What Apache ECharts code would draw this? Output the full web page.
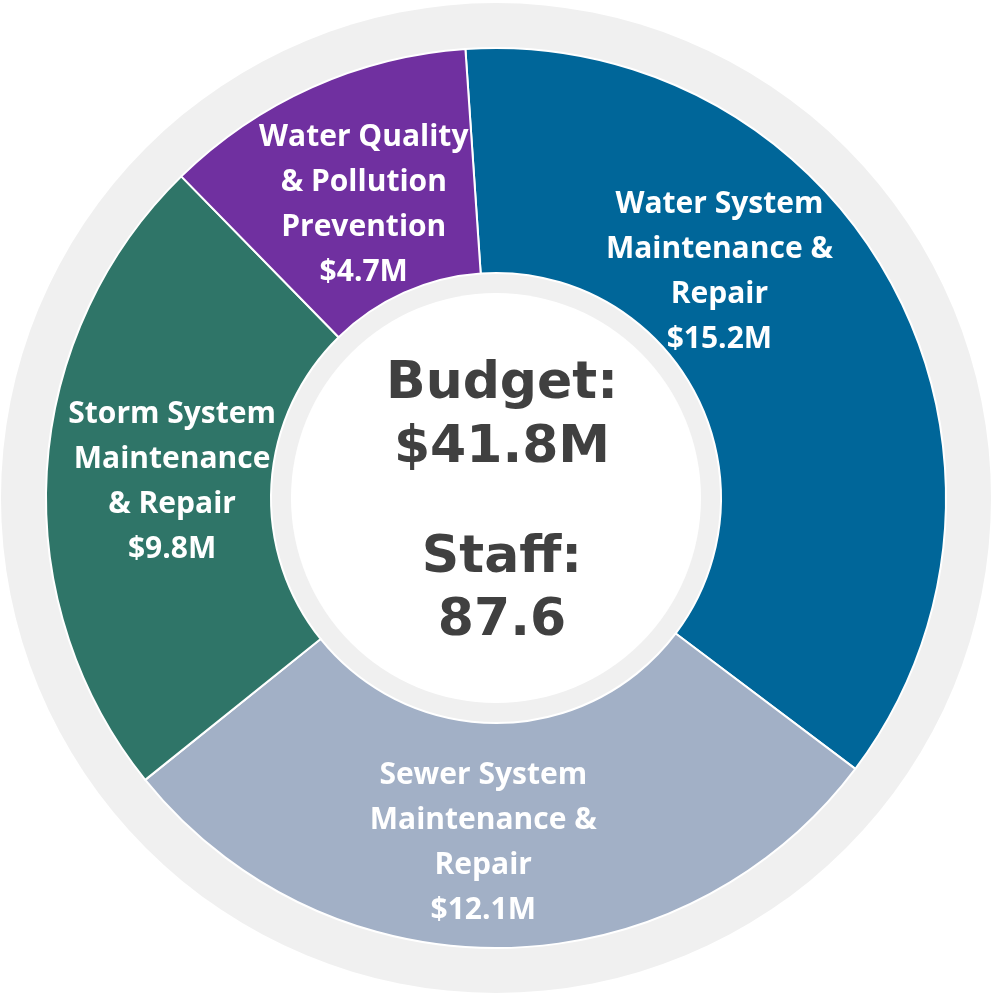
<!DOCTYPE html>
<html>
<head>
<meta charset="utf-8">
<script src="https://cdn.jsdelivr.net/npm/echarts@6/dist/echarts.min.js"></script>
<style>html,body{margin:0;padding:0;background:#fff}#c{width:1000px;height:994px}</style>
</head>
<body>
<div id="c"></div>
<script>
const categories = [
  "Water System\nMaintenance &\nRepair",
  "Sewer System\nMaintenance &\nRepair",
  "Storm System\nMaintenance\n& Repair",
  "Water Quality\n& Pollution\nPrevention"
];
const values = [15.2, 12.1, 9.8, 4.7];
const colors = ["#006699", "#A2B0C6", "#2F7568", "#7030A0"];
const centerLines = ["Budget:", "$41.8M", "Staff:", "87.6"];

const chart = echarts.init(document.getElementById('c'));
const cx = 496, cy = 498;
const labelOffsets = [[-76, -64], [-18, 4], [16, 4], [7, 18]];
const data = values.map((v, i) => ({
  name: categories[i],
  value: v,
  itemStyle: { color: colors[i] },
  label: { offset: labelOffsets[i] }
}));
const centerY = [384, 448, 558, 621];

chart.setOption({
  animation: false,
  series: [
    {
      type: 'pie', radius: [0, 495], center: [cx, cy], silent: true,
      label: { show: false }, labelLine: { show: false },
      data: [{ value: 1, itemStyle: { color: '#F0F0F0' } }]
    },
    {
      type: 'pie', radius: [225, 450], center: [cx, cy], startAngle: 93.9, clockwise: true,
      silent: true,
      itemStyle: { borderColor: '#ffffff', borderWidth: 2 },
      label: {
        show: true, position: 'inside',
        color: '#ffffff', fontFamily: 'Open Sans', fontWeight: 'bold', fontSize: 30, lineHeight: 45,
        formatter: p => p.name + '\n$' + p.value.toFixed(1) + 'M'
      },
      labelLine: { show: false },
      data: data
    },
    {
      type: 'pie', radius: [0, 205], center: [cx, cy], silent: true,
      label: { show: false }, labelLine: { show: false },
      data: [{ value: 1, itemStyle: { color: '#ffffff' } }]
    }
  ],
  graphic: centerLines.map((t, i) => ({
    type: 'text', z: 100, x: 502, y: centerY[i],
    style: { text: t, fill: '#404040', font: 'bold 52px "DejaVu Sans"', align: 'center', verticalAlign: 'middle' }
  }))
});
</script>
</body>
</html>
